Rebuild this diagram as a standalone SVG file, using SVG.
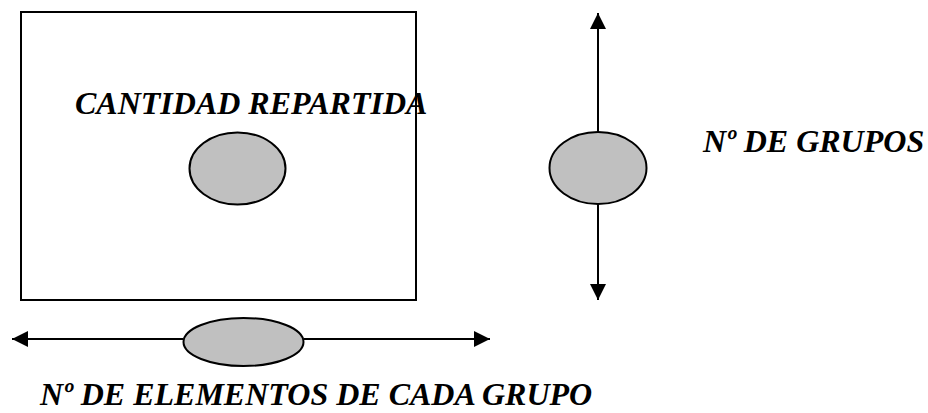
<svg xmlns="http://www.w3.org/2000/svg" width="928" height="413" viewBox="0 0 928 413">
<defs>
<marker id="ah" viewBox="0 0 16 16" refX="16" refY="8" markerWidth="16" markerHeight="16" markerUnits="userSpaceOnUse" orient="auto-start-reverse">
<path d="M0,0 L16,8 L0,16 Z" fill="#000"/>
</marker>
</defs>
<rect width="928" height="413" fill="#fff"/>
<g id="connectors" stroke="#000" stroke-width="2" fill="none">
<line x1="598" y1="132" x2="598" y2="13" marker-end="url(#ah)"/>
<line x1="598" y1="204" x2="598" y2="300" marker-end="url(#ah)"/>
<line x1="183" y1="339" x2="12" y2="339" marker-end="url(#ah)"/>
<line x1="304" y1="339" x2="490" y2="339" marker-end="url(#ah)"/>
</g>
<g id="cantidad">
<rect x="21" y="12" width="395" height="288" fill="none" stroke="#000" stroke-width="2"/>
<text x="75" y="114" font-family="Liberation Serif" font-size="32" font-weight="bold" font-style="oblique">CANTIDAD REPARTIDA</text>
<ellipse cx="237.5" cy="168.5" rx="48" ry="36" fill="#c0c0c0" stroke="#000" stroke-width="2"/>
</g>
<g id="grupos">
<ellipse cx="598" cy="168" rx="48.5" ry="36" fill="#c0c0c0" stroke="#000" stroke-width="2"/>
<text x="703" y="152" font-family="Liberation Serif" font-size="32" font-weight="bold" font-style="oblique">Nº DE GRUPOS</text>
</g>
<g id="elementos">
<ellipse cx="243.5" cy="342" rx="60" ry="24" fill="#c0c0c0" stroke="#000" stroke-width="2"/>
<text x="40" y="405" font-family="Liberation Serif" font-size="32" font-weight="bold" font-style="oblique">Nº DE ELEMENTOS DE CADA GRUPO</text>
</g>
</svg>
